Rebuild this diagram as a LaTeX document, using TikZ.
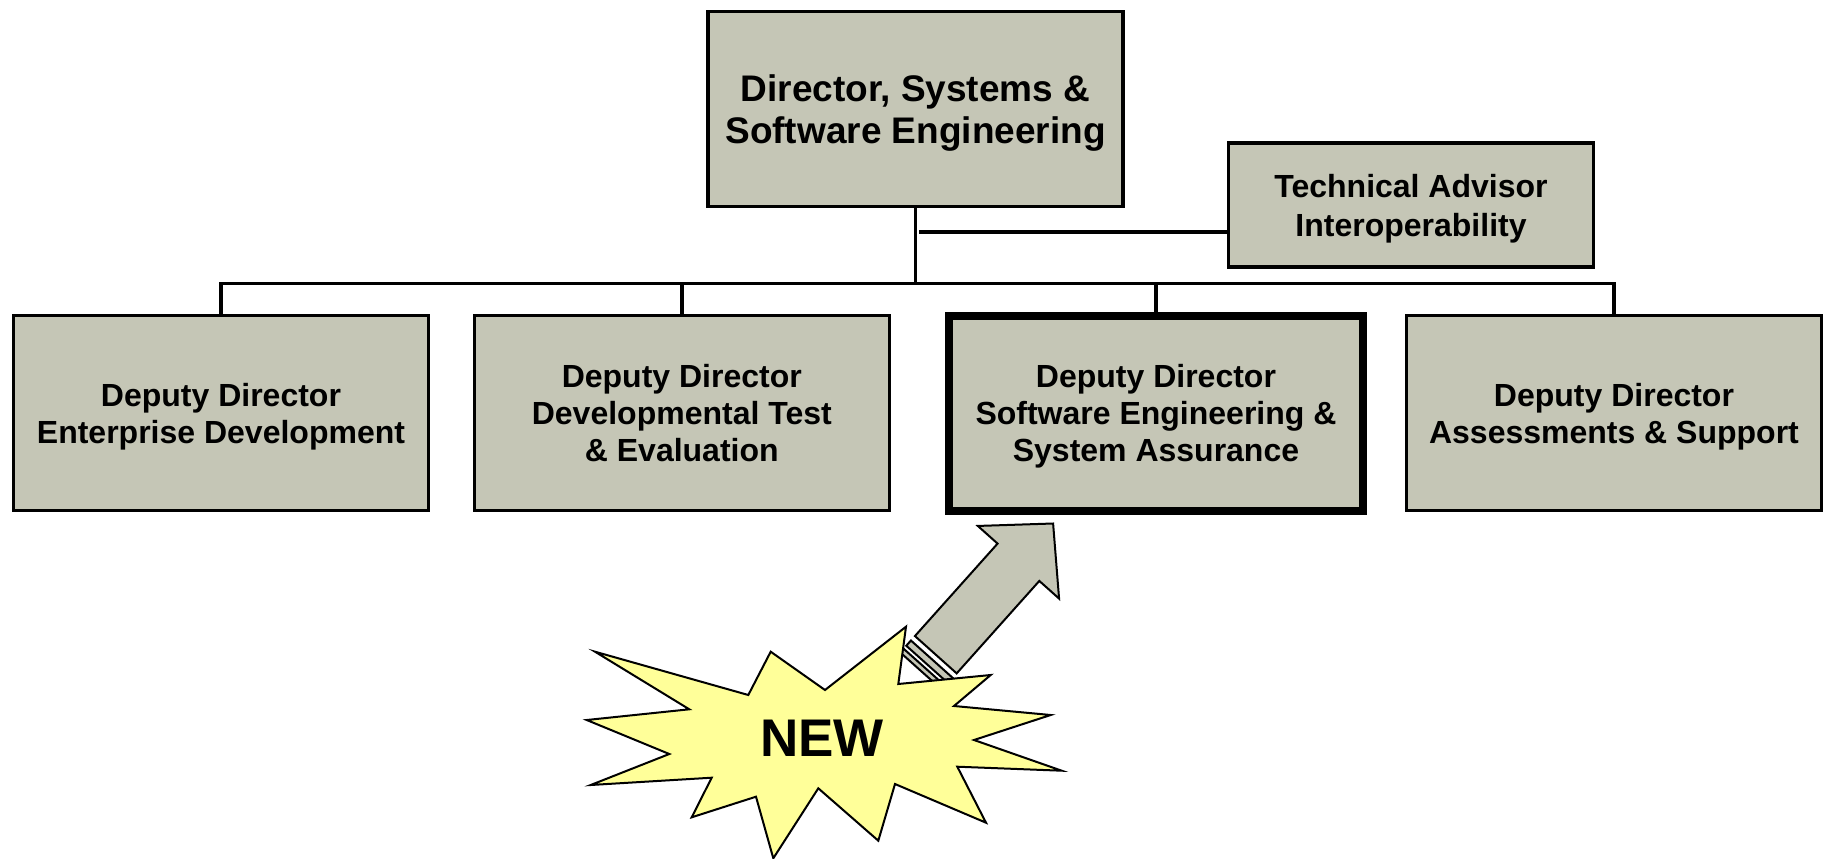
\documentclass[tikz,border=0pt]{standalone}
\usepackage{fontspec}
\setmainfont{Liberation Sans}
\usepackage{tikz}
\usetikzlibrary{positioning}

\definecolor{boxgray}{RGB}{197,198,182}
\definecolor{burstyellow}{RGB}{255,255,153}

\tikzset{
	orgbox/.style={draw, line width=3.5pt, fill=boxgray, align=center, inner sep=0pt,
		minimum width=415pt, minimum height=195pt, text depth=-4pt,
		font=\fontsize{32}{37}\selectfont\bfseries},
	link/.style={line width=3.5pt},
	blockarrow/.style={draw, line width=2pt, fill=boxgray, line join=miter},
}

\begin{document}
\begin{tikzpicture}[x=1pt,y=-1pt]
	\useasboundingbox (0,0) rectangle (1829,859);

	\node[orgbox, font=\fontsize{37}{42}\selectfont\bfseries] (dir) at (915.5,109)
		{Director, Systems \&\\Software Engineering};
	\node[orgbox, minimum width=365pt, minimum height=124pt,
		font=\fontsize{32}{39}\selectfont\bfseries] (adv) at (1411,205)
		{Technical Advisor\\Interoperability};

	\node[orgbox] (ent) at (221,413) {Deputy Director\\Enterprise Development};
	\node[orgbox] (dte) at (681.8,413) {Deputy Director\\Developmental Test\\\& Evaluation};
	\node[orgbox, line width=8pt, minimum width=414pt] (sesa) at (1156,413)
		{Deputy Director\\Software Engineering \&\\System Assurance};
	\node[orgbox] (asup) at (1614,413) {Deputy Director\\Assessments \& Support};

	% tree lines
	\draw[link] (dir.south) -- ++(0,75) coordinate (bus);
	\coordinate (tap) at (919,232);
	\draw[link] (tap) -- (tap -| adv.west);
	\draw[link] (ent.north) |- (bus) -| (asup.north);
	\draw[link] (dte.north) -- (dte.north |- bus);
	\draw[link] (sesa.north) -- (sesa.north |- bus);

	% striped arrow
	\begin{scope}[shift={(935.8,654.7)}, rotate=48.2]
		\draw[blockarrow] (0,-28) -- (124,-28) -- (124,-54.5) -- (176,0)
			-- (124,54.5) -- (124,28) -- (0,28) -- cycle;
		\draw[blockarrow] (-13,-28) rectangle (-6,28);
		\draw[blockarrow] (-22,-28) rectangle (-17,28);
	\end{scope}

	% starburst
	\draw[line width=2pt, fill=burstyellow, line join=miter]
		(595,651.7) -- (748.3,695) -- (770.7,651.7) -- (825,690) -- (906,626.7)
		-- (898.3,684) -- (990.7,675) -- (954,706) -- (1050.7,715) -- (974,740)
		-- (1061.7,770.7) -- (957.3,766.7) -- (986,822.7) -- (895,784)
		-- (878.3,840.7) -- (818.3,788.3) -- (773.3,858.3) -- (756,796.7)
		-- (691.7,817.3) -- (711.7,777.7) -- (590.7,785) -- (669.3,754)
		-- (586.7,720) -- (689.3,709.3) -- cycle;
	\node[font=\fontsize{53}{60}\selectfont\bfseries] (new) at (822,738) {NEW};
\end{tikzpicture}
\end{document}
